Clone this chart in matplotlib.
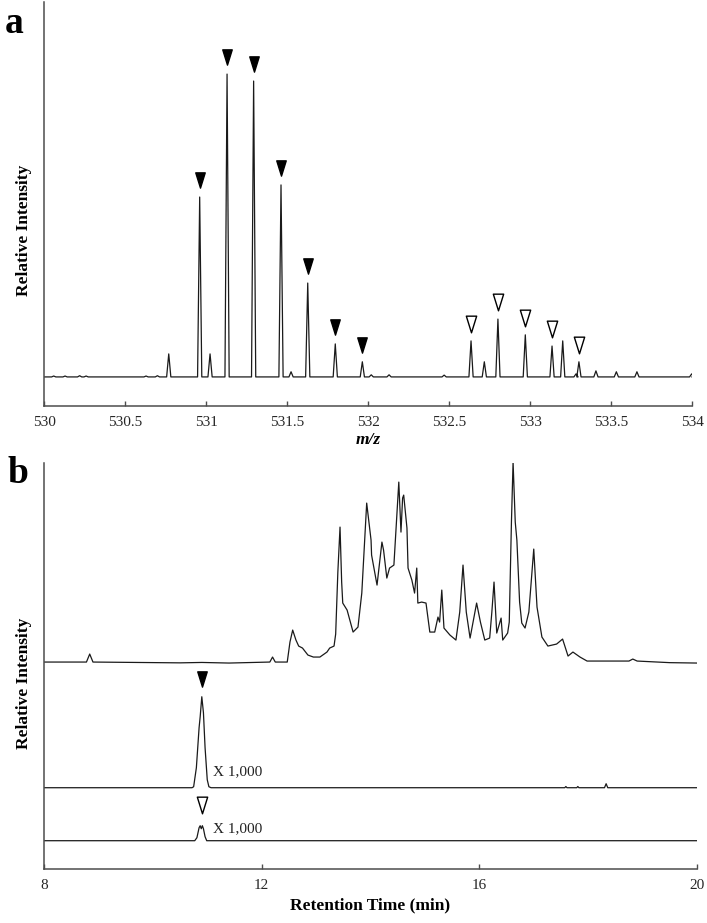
import numpy as np
import matplotlib
matplotlib.use("Agg")
import matplotlib.pyplot as plt
from matplotlib.path import Path
from matplotlib.transforms import offset_copy

plt.rcParams['font.family'] = ['Liberation Serif', 'DejaVu Serif']

# panel a: mass spectrum (peak centroids and relative intensity, %)
mz_peaks = [530.06, 530.13, 530.22, 530.26, 530.63, 530.70, 530.77, 530.961, 531.025,
            531.13, 531.294, 531.463, 531.525, 531.628, 531.798, 531.965, 532.02,
            532.13, 532.47, 532.636, 532.718, 532.802, 532.971, 533.136, 533.202,
            533.284, 533.302, 533.407, 533.533, 533.66, 533.998]
mz_int = [0.3, 0.3, 0.4, 0.3, 0.3, 0.4, 7.6, 59.4, 7.6,
          100.0, 97.7, 63.4, 1.7, 31.0, 10.9, 5.0, 0.7,
          0.7, 0.6, 11.9, 5.0, 19.1, 13.9, 10.2, 11.9,
          1.0, 5.0, 2.0, 1.7, 1.7, 1.0]
mz_filled = [530.961, 531.13, 531.294, 531.463, 531.628, 531.798, 531.965]
mz_open = [532.636, 532.802, 532.971, 533.136, 533.302]
mz_ticks = [530, 530.5, 531, 531.5, 532, 532.5, 533, 533.5, 534]
mz_ticklabels = ["530", "530.5", "531", "531.5", "532", "532.5", "533", "533.5", "534"]

# panel b: total ion chromatogram (relative, max = 100)
tic_t = [8.00, 8.78, 8.84, 8.90, 10.50, 10.90, 11.40, 12.15, 12.20, 12.25, 12.47, 12.52,
         12.57, 12.63, 12.68, 12.75, 12.85, 12.95, 13.07, 13.20, 13.25, 13.33, 13.36,
         13.40, 13.44, 13.47, 13.49, 13.57, 13.68, 13.77, 13.84, 13.93, 14.01, 14.02,
         14.12, 14.21, 14.24, 14.30, 14.35, 14.43, 14.52, 14.56, 14.59, 14.61, 14.67,
         14.69, 14.76, 14.81, 14.85, 14.87, 14.94, 15.02, 15.09, 15.18, 15.24, 15.27,
         15.31, 15.35, 15.46, 15.57, 15.64, 15.70, 15.76, 15.83, 15.95, 16.02, 16.10,
         16.19, 16.23, 16.27, 16.32, 16.40, 16.43, 16.52, 16.55, 16.59, 16.62, 16.66,
         16.69, 16.74, 16.78, 16.84, 16.91, 17.00, 17.06, 17.15, 17.26, 17.42, 17.53,
         17.63, 17.72, 17.85, 17.98, 18.75, 18.82, 18.90, 19.50, 20.00]
tic_h = [0.0, 0.0, 4.0, 0.0, -0.4, -0.2, -0.5, 0.0, 2.5, 0.0, 0.0, 10.0,
         16.0, 11.0, 8.0, 7.0, 3.5, 2.5, 2.5, 5.0, 7.0, 8.0, 14.0,
         45.0, 67.5, 40.0, 29.5, 26.0, 15.0, 17.5, 34.5, 79.5, 61.0, 53.5,
         38.5, 60.0, 56.0, 42.0, 47.0, 48.5, 90.0, 65.0, 82.0, 83.5, 67.0,
         47.0, 41.0, 34.5, 47.0, 29.5, 30.0, 29.5, 15.0, 15.0, 22.5, 20.0,
         36.0, 17.0, 13.5, 11.0, 25.0, 48.5, 25.0, 12.0, 29.5, 20.0, 11.0,
         12.0, 25.0, 40.0, 14.5, 22.0, 11.0, 14.5, 20.0, 70.0, 100.0, 70.0,
         61.0, 30.0, 19.5, 17.0, 25.0, 56.5, 27.5, 12.5, 8.0, 9.0, 11.5,
         3.0, 5.0, 2.5, 0.5, 0.5, 1.5, 0.5, -0.3, -0.5]

# extracted ion chromatograms (x 1,000)
eic1_t = [8.00, 10.72, 10.75, 10.80, 10.85, 10.87, 10.90, 10.93, 10.96, 11.00, 11.03,
          11.07, 17.57, 17.59, 17.61, 17.79, 17.81, 17.83, 18.30, 18.33, 18.36, 20.00]
eic1_h = [0.0, 0.0, 0.5, 10.0, 30.0, 35.5, 45.5, 37.5, 20.0, 4.0, 0.5,
          0.0, 0.0, 0.6, 0.0, 0.0, 0.6, 0.0, 0.0, 2.0, 0.0, 0.0]
eic2_t = [8.00, 10.77, 10.81, 10.85, 10.87, 10.89, 10.91, 10.93, 10.96, 10.99, 20.00]
eic2_h = [0.0, 0.0, 1.5, 6.5, 7.5, 6.0, 7.5, 6.0, 2.0, 0.0, 0.0]
rt_ticks = [8, 12, 16, 20]

# build the centroid peaks as narrow triangles
hw = 0.013
spec_x = [530.0]
spec_y = [0.0]
for m, h in zip(mz_peaks, mz_int):
    spec_x += [m - hw, m, m + hw]
    spec_y += [0.0, h, 0.0]
spec_x.append(534.0)
spec_y.append(0.0)

# downward triangle, a bit narrower than tall
tri = Path([(-0.62, 1.0), (0.62, 1.0), (0.0, -1.0), (-0.62, 1.0)], closed=True)
ink = '#1a1a1a'
spine_c = '#4d4d4d'

fig = plt.figure(figsize=(7.07, 9.23), dpi=100)

ax_a = fig.add_axes([44 / 707, 1 - 406 / 923, 648 / 707, 404 / 923])
ax_a.plot(spec_x, spec_y, color=ink, lw=0.9)
ax_a.set_xlim(530, 534)
ax_a.set_ylim(-9.6, 123.8)

mark_tr = offset_copy(ax_a.transData, fig=fig, y=12, units='points')
peak_h = dict(zip(mz_peaks, mz_int))
ax_a.plot(mz_filled, [peak_h[m] for m in mz_filled], linestyle='none', marker=tri,
          ms=11, color='black', transform=mark_tr)
ax_a.plot(mz_open, [peak_h[m] for m in mz_open], linestyle='none', marker=tri,
          ms=12, mfc='white', mec='black', mew=1.0, transform=mark_tr)

ax_a.set_xticks(mz_ticks)
ax_a.set_xticklabels(mz_ticklabels)
ax_a.set_yticks([])
ax_a.set_xlabel("m/z", fontsize=12.5, fontweight='bold', fontstyle='italic', labelpad=2)

ax_b = fig.add_axes([44 / 707, 1 - 869 / 923, 653 / 707, 406.3 / 923])
off_tic, off_e1, off_e2 = 103.5, 40.65, 14.15
ax_b.plot(tic_t, np.array(tic_h) + off_tic, color=ink, lw=0.9)
ax_b.plot(eic1_t, np.array(eic1_h) + off_e1, color=ink, lw=0.9)
ax_b.plot(eic2_t, np.array(eic2_h) + off_e2, color=ink, lw=0.9)
ax_b.set_xlim(8, 20)
ax_b.set_ylim(0, 203.2)

mark_trb = offset_copy(ax_b.transData, fig=fig, y=12.5, units='points')
ax_b.plot([10.90], [max(eic1_h) + off_e1], linestyle='none', marker=tri, ms=11,
          color='black', transform=mark_trb)
ax_b.plot([10.90], [max(eic2_h) + off_e2 + 1.5], linestyle='none', marker=tri, ms=12,
          mfc='white', mec='black', mew=1.0, transform=mark_trb)
ax_b.text(11.10, off_e1 + 7.85, "X 1,000", fontsize=11, va='center', ha='left', color='#222222')
ax_b.text(11.10, off_e2 + 5.85, "X 1,000", fontsize=11, va='center', ha='left', color='#222222')

ax_b.set_xticks(rt_ticks)
ax_b.set_yticks([])
ax_b.set_xlabel("Retention Time (min)", fontsize=12.5, fontweight='bold', labelpad=4)

for ax in (ax_a, ax_b):
    for s in ('top', 'right'):
        ax.spines[s].set_visible(False)
    for s in ('left', 'bottom'):
        ax.spines[s].set_color(spine_c)
        ax.spines[s].set_linewidth(1.1)
    ax.tick_params(axis='x', direction='in', length=3.5, width=1.0, color=spine_c,
                   labelsize=11, labelcolor='#262626', pad=7)
    ax.set_facecolor('none')

fig.text(24.5 / 707, 1 - 230 / 923, "Relative Intensity", rotation=90, ha='center',
         va='center', fontsize=12.5, fontweight='bold')
fig.text(24.5 / 707, 1 - 683 / 923, "Relative Intensity", rotation=90, ha='center',
         va='center', fontsize=12.5, fontweight='bold')
fig.text(5 / 707, 1 - 33 / 923, "a", fontsize=27, fontweight='bold', ha='left', va='baseline')
fig.text(8 / 707, 1 - 483 / 923, "b", fontsize=27, fontweight='bold', ha='left', va='baseline')

fig.savefig("out.png", dpi=100)
